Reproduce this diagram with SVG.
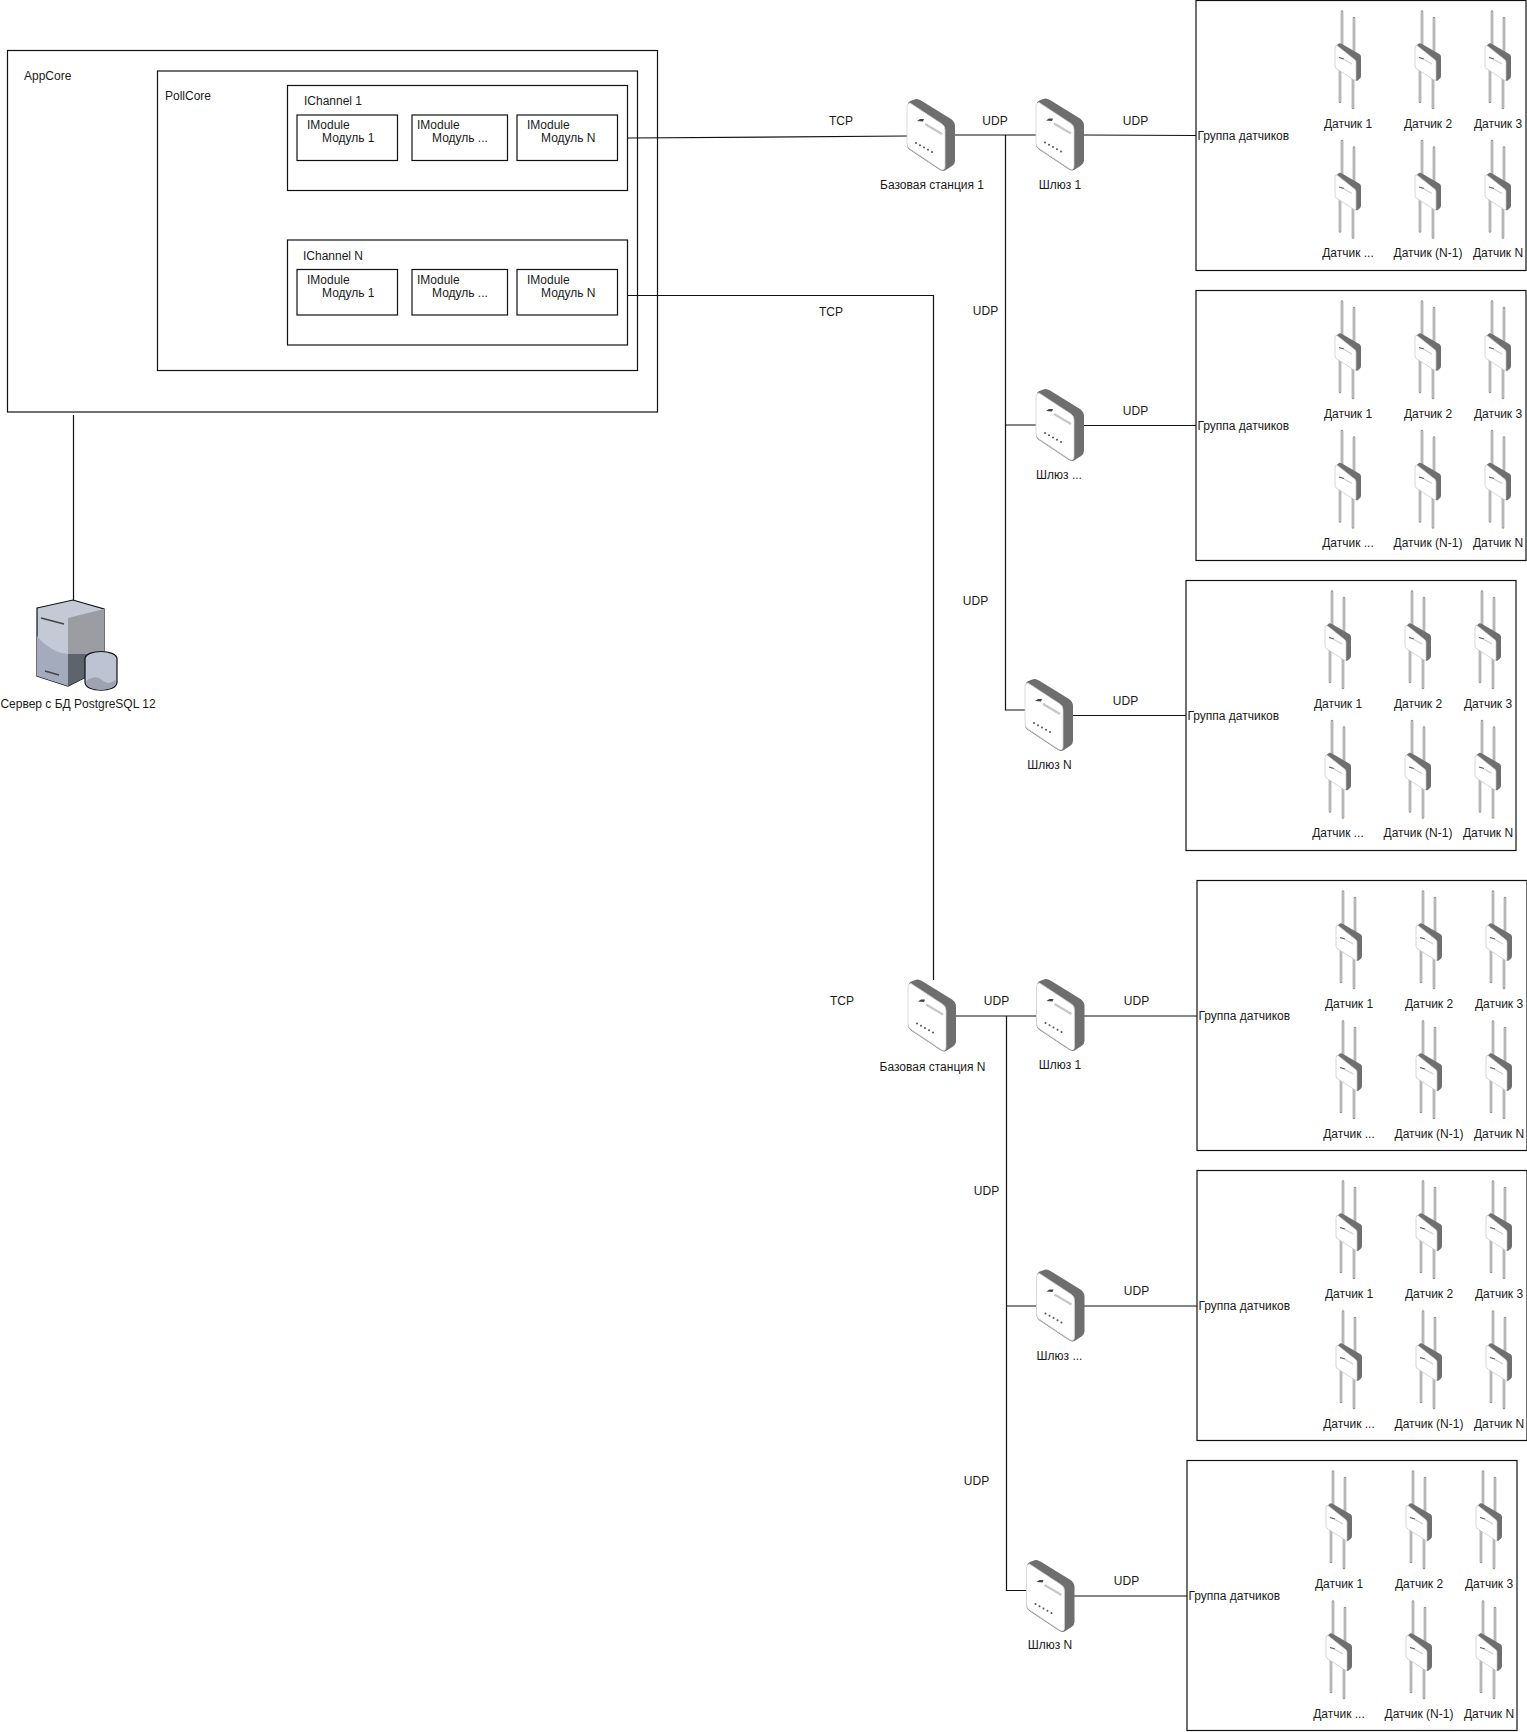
<svg xmlns="http://www.w3.org/2000/svg" xmlns:xlink="http://www.w3.org/1999/xlink" width="1527" height="1732" viewBox="0 0 1527 1732">
<style>
text{font-family:"Liberation Sans",Arial,sans-serif;font-size:12px;fill:#1a1a1a}
.m{text-anchor:middle}
.b{fill:#fff;stroke:#111;stroke-width:1.2}
.c{fill:none;stroke:#111;stroke-width:1.2}
</style>
<defs>
<g id="gw">
<path d="M1 4Q2 2 6 1L9 0Q11-.5 14 1.500L44 20Q48 23 48 27V62Q48 65 45 67L38 71.500Q36 72.500 33 71L3 51Q0 49 0 46Z" fill="#6e6e6e"/>
<path d="M3 4Q1 3.500 0 7V44Q0 48 3 50L33 70Q38 73 38 67V31Q38 27 35 25Z" fill="#fff" stroke="#d0d0d0" stroke-width=".8"/>
<path d="M10 22L13 20H17L16 22.500Z" fill="#444"/>
<path d="M18 25L35 35" stroke="#c8c8c8" stroke-width="2.400"/>
<path d="M9 44h.01M13 46.200h.01M17 48.500h.01M21 50.700h.01M25 53h.01" stroke="#555" stroke-width="2" stroke-linecap="round"/>
</g>
<g id="ant">
<path d="M7 11.500V46M19 18V54M5 70V102M18 78V108" stroke="#969696" stroke-width="2.600" fill="none" stroke-linecap="round"/>
<path d="M7 11.500V46M19 18V54M5 70V102M18 78V108" stroke="#d8d8d8" stroke-width="1" fill="none"/>
<path d="M1 46L4 43.500Q5 43 7 44L25 54.500Q26 55.500 26 57V76Q26 78 24.500 79L22 81L1 68Z" fill="#6f6f6f"/>
<path d="M2 45.500Q0 45 0 48V66Q0 68 2 69L19 80Q21 81.500 21 79V62Q21 60 19 59Z" fill="#fff" stroke="#c4c4c4" stroke-width=".7"/>
<path d="M4 57.500L9 59" stroke="#555" stroke-width="1.200" fill="none"/>
<path d="M9 59.500L17 64" stroke="#ccc" stroke-width="1.200" fill="none"/>
</g>
</defs>

<g id="appcore"><rect class="b" x="7.500" y="50.500" width="650" height="361.500"/><text x="24" y="80">AppCore</text></g>
<g id="pollcore"><rect class="b" x="157.500" y="71" width="480" height="299.500"/><text x="165" y="100">PollCore</text></g>
<g id="ichannel1"><rect class="b" x="287.500" y="85.500" width="340" height="105"/><text x="304" y="105">IChannel 1</text></g>
<g id="m11"><rect class="b" x="297" y="115" width="100.500" height="45.500"/><text x="307" y="129">IModule</text><text x="322" y="142">Модуль 1</text></g>
<g id="m12"><rect class="b" x="412" y="115" width="95.500" height="45.500"/><text x="417" y="129">IModule</text><text x="432" y="142">Модуль ...</text></g>
<g id="m13"><rect class="b" x="517" y="115" width="100.500" height="45.500"/><text x="527" y="129">IModule</text><text x="541" y="142">Модуль N</text></g>
<g id="ichannelN"><rect class="b" x="287.500" y="240" width="340" height="105"/><text x="303" y="260">IChannel N</text></g>
<g id="m21"><rect class="b" x="297" y="269.500" width="100.500" height="45.500"/><text x="307" y="284">IModule</text><text x="322" y="297">Модуль 1</text></g>
<g id="m22"><rect class="b" x="412" y="269.500" width="95.500" height="45.500"/><text x="417" y="284">IModule</text><text x="432" y="297">Модуль ...</text></g>
<g id="m23"><rect class="b" x="517" y="269.500" width="100.500" height="45.500"/><text x="527" y="284">IModule</text><text x="541" y="297">Модуль N</text></g>

<g id="connectors">
<path class="c" d="M628 138L907 136"/>
<path class="c" d="M628 295.500H933.500V980"/>
<path class="c" d="M73.500 415V600"/>
<path class="c" d="M954 135H1036M1083 135L1196 135.500M1005.500 135V710H1026M1005.500 425H1036M1083 425.500H1196M1073 715.500H1186"/>
<path class="c" d="M955 1016H1037M1084 1016H1197M1006.500 1016V1590.500H1027M1006.500 1306H1037M1084 1306H1197M1074 1596H1187"/>
</g>

<g id="server">
<path d="M37 608L73 600L104 609V668L68 686L37 676Z" fill="#c5c9d6" stroke="#111" stroke-width="1.200"/>
<path d="M68 618L104 609V654L68 654Z" fill="#9b9da3"/>
<path d="M68 654H104V668L68 686Z" fill="#5f636d"/>
<path d="M37 636Q50 652 68 654V686L37 676Z" fill="#a4abbd"/>
<path d="M41 618L64 624M45 671L59 675" stroke="#444" stroke-width="1.500"/>
<path d="M85 659C85 649 117 649 117 659V682C117 693 85 693 85 682Z" fill="#bdc3d2" stroke="#111" stroke-width="1.200"/>
<path d="M86 681Q96 674 102 680T116 680V682C116 692 86 692 86 682Z" fill="#9ea3b2"/>
<text class="m" x="78" y="708">Сервер с БД PostgreSQL 12</text>
</g>

<g id="edge-labels">
<text class="m" x="841" y="125">TCP</text><text class="m" x="995" y="125">UDP</text><text class="m" x="1135.500" y="125">UDP</text><text class="m" x="985.500" y="315">UDP</text><text class="m" x="1135.500" y="415">UDP</text><text class="m" x="975.500" y="605">UDP</text><text class="m" x="1125.500" y="705">UDP</text><text class="m" x="831" y="316">TCP</text>
<text class="m" x="842" y="1005">TCP</text><text class="m" x="996.500" y="1005">UDP</text><text class="m" x="1136.500" y="1005">UDP</text><text class="m" x="986.500" y="1195">UDP</text><text class="m" x="1136.500" y="1295">UDP</text><text class="m" x="976.500" y="1485">UDP</text><text class="m" x="1126.500" y="1585">UDP</text>
</g>

<g id="base1"><use href="#gw" x="907" y="99"/><text class="m" x="932" y="189">Базовая станция 1</text></g>
<g id="gw11"><use href="#gw" x="1036" y="98.500"/><text class="m" x="1060" y="189">Шлюз 1</text></g>
<g id="gw12"><use href="#gw" x="1036" y="389"/><text class="m" x="1059" y="479">Шлюз ...</text></g>
<g id="gw13"><use href="#gw" x="1025" y="679"/><text class="m" x="1049.500" y="769">Шлюз N</text></g>
<g id="baseN"><use href="#gw" x="908" y="979.500"/><text class="m" x="932.500" y="1071">Базовая станция N</text></g>
<g id="gw21"><use href="#gw" x="1036.500" y="979"/><text class="m" x="1060" y="1069">Шлюз 1</text></g>
<g id="gw22"><use href="#gw" x="1036.500" y="1269.500"/><text class="m" x="1059.500" y="1360">Шлюз ...</text></g>
<g id="gw23"><use href="#gw" x="1026.500" y="1560"/><text class="m" x="1050" y="1649">Шлюз N</text></g>

<g id="group1" transform="translate(0,0)"><rect class="b" x="1196" y="0.500" width="330" height="270"/><text x="1197.500" y="140">Группа датчиков</text>
<g id="s1a"><use href="#ant" x="1335"/><text class="m" x="1348" y="128">Датчик 1</text></g><g id="s1b"><use href="#ant" x="1415"/><text class="m" x="1428" y="128">Датчик 2</text></g><g id="s1c"><use href="#ant" x="1485"/><text class="m" x="1498" y="128">Датчик 3</text></g>
<g id="s1d"><use href="#ant" x="1335" y="129.500"/><text class="m" x="1348" y="257">Датчик ...</text></g><g id="s1e"><use href="#ant" x="1415" y="129.500"/><text class="m" x="1428" y="257">Датчик (N-1)</text></g><g id="s1f"><use href="#ant" x="1485" y="129.500"/><text class="m" x="1498" y="257">Датчик N</text></g></g>
<g id="group2" transform="translate(0,290)"><rect class="b" x="1196" y="0.500" width="330" height="270"/><text x="1197.500" y="140">Группа датчиков</text>
<g id="s2a"><use href="#ant" x="1335"/><text class="m" x="1348" y="128">Датчик 1</text></g><g id="s2b"><use href="#ant" x="1415"/><text class="m" x="1428" y="128">Датчик 2</text></g><g id="s2c"><use href="#ant" x="1485"/><text class="m" x="1498" y="128">Датчик 3</text></g>
<g id="s2d"><use href="#ant" x="1335" y="129.500"/><text class="m" x="1348" y="257">Датчик ...</text></g><g id="s2e"><use href="#ant" x="1415" y="129.500"/><text class="m" x="1428" y="257">Датчик (N-1)</text></g><g id="s2f"><use href="#ant" x="1485" y="129.500"/><text class="m" x="1498" y="257">Датчик N</text></g></g>
<g id="group3" transform="translate(-10,580)"><rect class="b" x="1196" y="0.500" width="330" height="270"/><text x="1197.500" y="140">Группа датчиков</text>
<g id="s3a"><use href="#ant" x="1335"/><text class="m" x="1348" y="128">Датчик 1</text></g><g id="s3b"><use href="#ant" x="1415"/><text class="m" x="1428" y="128">Датчик 2</text></g><g id="s3c"><use href="#ant" x="1485"/><text class="m" x="1498" y="128">Датчик 3</text></g>
<g id="s3d"><use href="#ant" x="1335" y="129.500"/><text class="m" x="1348" y="257">Датчик ...</text></g><g id="s3e"><use href="#ant" x="1415" y="129.500"/><text class="m" x="1428" y="257">Датчик (N-1)</text></g><g id="s3f"><use href="#ant" x="1485" y="129.500"/><text class="m" x="1498" y="257">Датчик N</text></g></g>
<g id="group4" transform="translate(1,880)"><rect class="b" x="1196" y="0.500" width="330" height="270"/><text x="1197.500" y="140">Группа датчиков</text>
<g id="s4a"><use href="#ant" x="1335"/><text class="m" x="1348" y="128">Датчик 1</text></g><g id="s4b"><use href="#ant" x="1415"/><text class="m" x="1428" y="128">Датчик 2</text></g><g id="s4c"><use href="#ant" x="1485"/><text class="m" x="1498" y="128">Датчик 3</text></g>
<g id="s4d"><use href="#ant" x="1335" y="130"/><text class="m" x="1348" y="258">Датчик ...</text></g><g id="s4e"><use href="#ant" x="1415" y="130"/><text class="m" x="1428" y="258">Датчик (N-1)</text></g><g id="s4f"><use href="#ant" x="1485" y="130"/><text class="m" x="1498" y="258">Датчик N</text></g></g>
<g id="group5" transform="translate(1,1170)"><rect class="b" x="1196" y="0.500" width="330" height="270"/><text x="1197.500" y="140">Группа датчиков</text>
<g id="s5a"><use href="#ant" x="1335"/><text class="m" x="1348" y="128">Датчик 1</text></g><g id="s5b"><use href="#ant" x="1415"/><text class="m" x="1428" y="128">Датчик 2</text></g><g id="s5c"><use href="#ant" x="1485"/><text class="m" x="1498" y="128">Датчик 3</text></g>
<g id="s5d"><use href="#ant" x="1335" y="130"/><text class="m" x="1348" y="258">Датчик ...</text></g><g id="s5e"><use href="#ant" x="1415" y="130"/><text class="m" x="1428" y="258">Датчик (N-1)</text></g><g id="s5f"><use href="#ant" x="1485" y="130"/><text class="m" x="1498" y="258">Датчик N</text></g></g>
<g id="group6" transform="translate(-9,1460)"><rect class="b" x="1196" y="0.500" width="330" height="270"/><text x="1197.500" y="140">Группа датчиков</text>
<g id="s6a"><use href="#ant" x="1335"/><text class="m" x="1348" y="128">Датчик 1</text></g><g id="s6b"><use href="#ant" x="1415"/><text class="m" x="1428" y="128">Датчик 2</text></g><g id="s6c"><use href="#ant" x="1485"/><text class="m" x="1498" y="128">Датчик 3</text></g>
<g id="s6d"><use href="#ant" x="1335" y="130"/><text class="m" x="1348" y="258">Датчик ...</text></g><g id="s6e"><use href="#ant" x="1415" y="130"/><text class="m" x="1428" y="258">Датчик (N-1)</text></g><g id="s6f"><use href="#ant" x="1485" y="130"/><text class="m" x="1498" y="258">Датчик N</text></g></g>
</svg>
